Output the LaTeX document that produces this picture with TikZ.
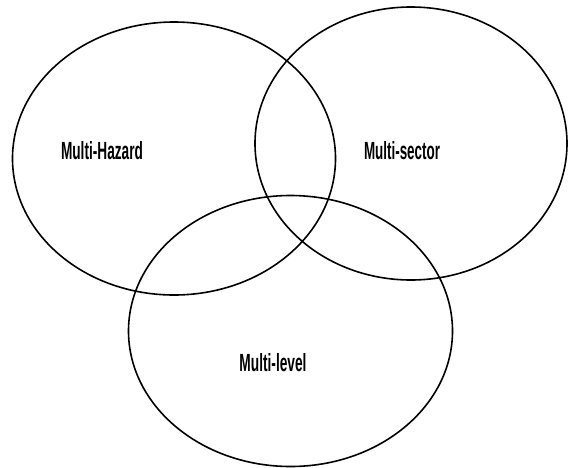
\documentclass[tikz,border=0pt]{standalone}
\usepackage{fontspec}
\setmainfont{Liberation Sans}
\usepackage{graphicx}
\begin{document}
\begin{tikzpicture}[x=1pt,y=-1pt,
  venn/.style={draw=black,line width=1.6pt,ellipse},
  lbl/.style={inner sep=0pt}]
\useasboundingbox (0,0) rectangle (568,467);
\draw[line width=1.6pt] (174,158.5) ellipse [x radius=161.5, y radius=136.5];
\draw[line width=1.6pt] (411,143.5) ellipse [x radius=156, y radius=136.5];
\draw[line width=1.6pt] (290.5,331) ellipse [x radius=162, y radius=135.5];
\node[lbl] (haz) at (102,151) {\resizebox{82pt}{18pt}{\bfseries Multi-Hazard}};
\node[lbl] (sec) at (402,151) {\resizebox{76pt}{18pt}{\bfseries Multi-sector}};
\node[lbl] (lev) at (273,363) {\resizebox{67pt}{18pt}{\bfseries Multi-level}};
\end{tikzpicture}
\end{document}
